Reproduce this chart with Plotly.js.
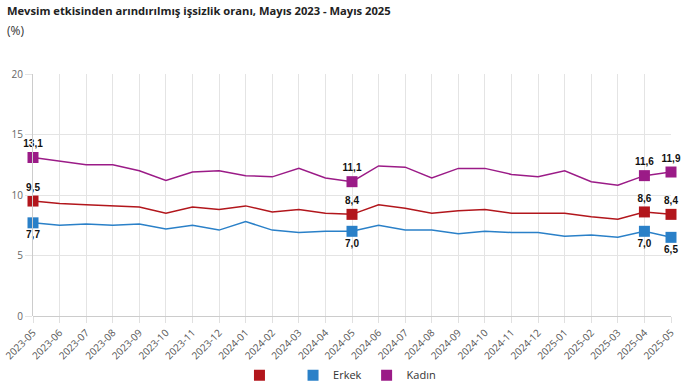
<!DOCTYPE html>
<html>
<head>
<meta charset="utf-8">
<script src="https://cdn.plot.ly/plotly-3.0.1.min.js"></script>
<style>html,body{margin:0;padding:0;background:#fff;}#chart{width:692px;height:392px;}</style>
</head>
<body>
<div id="chart"></div>
<script>
const months = ["2023-05","2023-06","2023-07","2023-08","2023-09","2023-10","2023-11","2023-12",
  "2024-01","2024-02","2024-03","2024-04","2024-05","2024-06","2024-07","2024-08","2024-09","2024-10",
  "2024-11","2024-12","2025-01","2025-02","2025-03","2025-04","2025-05"];
const toplam = [9.5,9.3,9.2,9.1,9.0,8.5,9.0,8.8,9.1,8.6,8.8,8.5,8.4,9.2,8.9,8.5,8.7,8.8,8.5,8.5,8.5,8.2,8.0,8.6,8.4];
const erkek  = [7.7,7.5,7.6,7.5,7.6,7.2,7.5,7.1,7.8,7.1,6.9,7.0,7.0,7.5,7.1,7.1,6.8,7.0,6.9,6.9,6.6,6.7,6.5,7.0,6.5];
const kadin  = [13.1,12.8,12.5,12.5,12.0,11.2,11.9,12.0,11.6,11.5,12.2,11.4,11.1,12.4,12.3,11.4,12.2,12.2,11.7,11.5,12.0,11.1,10.8,11.6,11.9];
const seriesNames = ["\u00a0\u00a0\u00a0", "Erkek", "Kadın"];
const highlightIdx = [0, 12, 23, 24];

const colors = ["#B2161C", "#2A80C8", "#9B1B87"];
const labelPos = ["top center", "bottom center", "top center"];
const data = [toplam, erkek, kadin];

const fmt = v => v.toFixed(1).replace(".", ",");
const traces = [];
data.forEach((vals, s) => {
  traces.push({
    type: "scatter", mode: "lines", x: months, y: vals,
    line: {color: colors[s], width: 1.5}, showlegend: false, hoverinfo: "x+y"
  });
});
data.forEach((vals, s) => {
  traces.push({
    type: "scatter", mode: "markers+text",
    x: highlightIdx.map(i => months[i]), y: highlightIdx.map(i => vals[i]),
    text: highlightIdx.map(i => fmt(vals[i])),
    textposition: labelPos[s],
    textfont: {family: "Liberation Sans, Arial, sans-serif", size: 10, color: "#111", weight: "bold"},
    marker: {symbol: "square", size: 11, color: colors[s], line: {width: 0}},
    showlegend: false, cliponaxis: false, hoverinfo: "skip"
  });
});
data.forEach((vals, s) => {
  traces.push({
    type: "scatter", mode: "markers", x: [null], y: [null], name: seriesNames[s],
    marker: {symbol: "square", size: 11, color: colors[s]}, showlegend: true
  });
});

const layout = {
  width: 692, height: 392,
  margin: {l: 33, r: 21, t: 74, b: 76},
  paper_bgcolor: "#fff", plot_bgcolor: "#fff",
  font: {family: "Open Sans, Noto Sans, sans-serif", color: "#555", size: 10},
  title: {text: "<b>Mevsim etkisinden arındırılmış işsizlik oranı, Mayıs 2023 - Mayıs 2025</b>",
    x: 0.01, xref: "container", xanchor: "left", y: 0.983, yanchor: "top",
    font: {family: "Open Sans, Noto Sans, sans-serif", size: 11.2, color: "#222"}},
  annotations: [{text: "(%)", xref: "paper", yref: "paper", x: 0, xshift: -28, y: 1.222, xanchor: "left", yanchor: "top",
    showarrow: false, font: {family: "Open Sans, Noto Sans, sans-serif", size: 12, color: "#333"}}],
  xaxis: {type: "category", range: [0, months.length - 1], tickangle: -45,
    showgrid: true, gridcolor: "#e4e4e4", gridwidth: 1,
    ticks: "outside", ticklen: 6, tickcolor: "#e0e0e0",
    showline: false, zeroline: false,
    tickfont: {size: 10, color: "#555"}, automargin: false},
  yaxis: {range: [0, 20], tickvals: [0, 5, 10, 15, 20],
    showgrid: true, gridcolor: "#e4e4e4", gridwidth: 1,
    ticks: "outside", ticklen: 7, tickcolor: "#e4e4e4",
    showline: true, linecolor: "#cccccc", linewidth: 1,
    zeroline: true, zerolinecolor: "#cccccc", zerolinewidth: 1,
    tickfont: {size: 10, color: "#666"}, automargin: false},
  legend: {orientation: "h", x: 0.492, xref: "container", xanchor: "center", y: 0.043, yref: "container", yanchor: "middle",
    font: {size: 11, color: "#333"}, itemwidth: 30},
  showlegend: true
};
Plotly.newPlot("chart", traces, layout, {displayModeBar: false, staticPlot: true});
</script>
</body>
</html>
